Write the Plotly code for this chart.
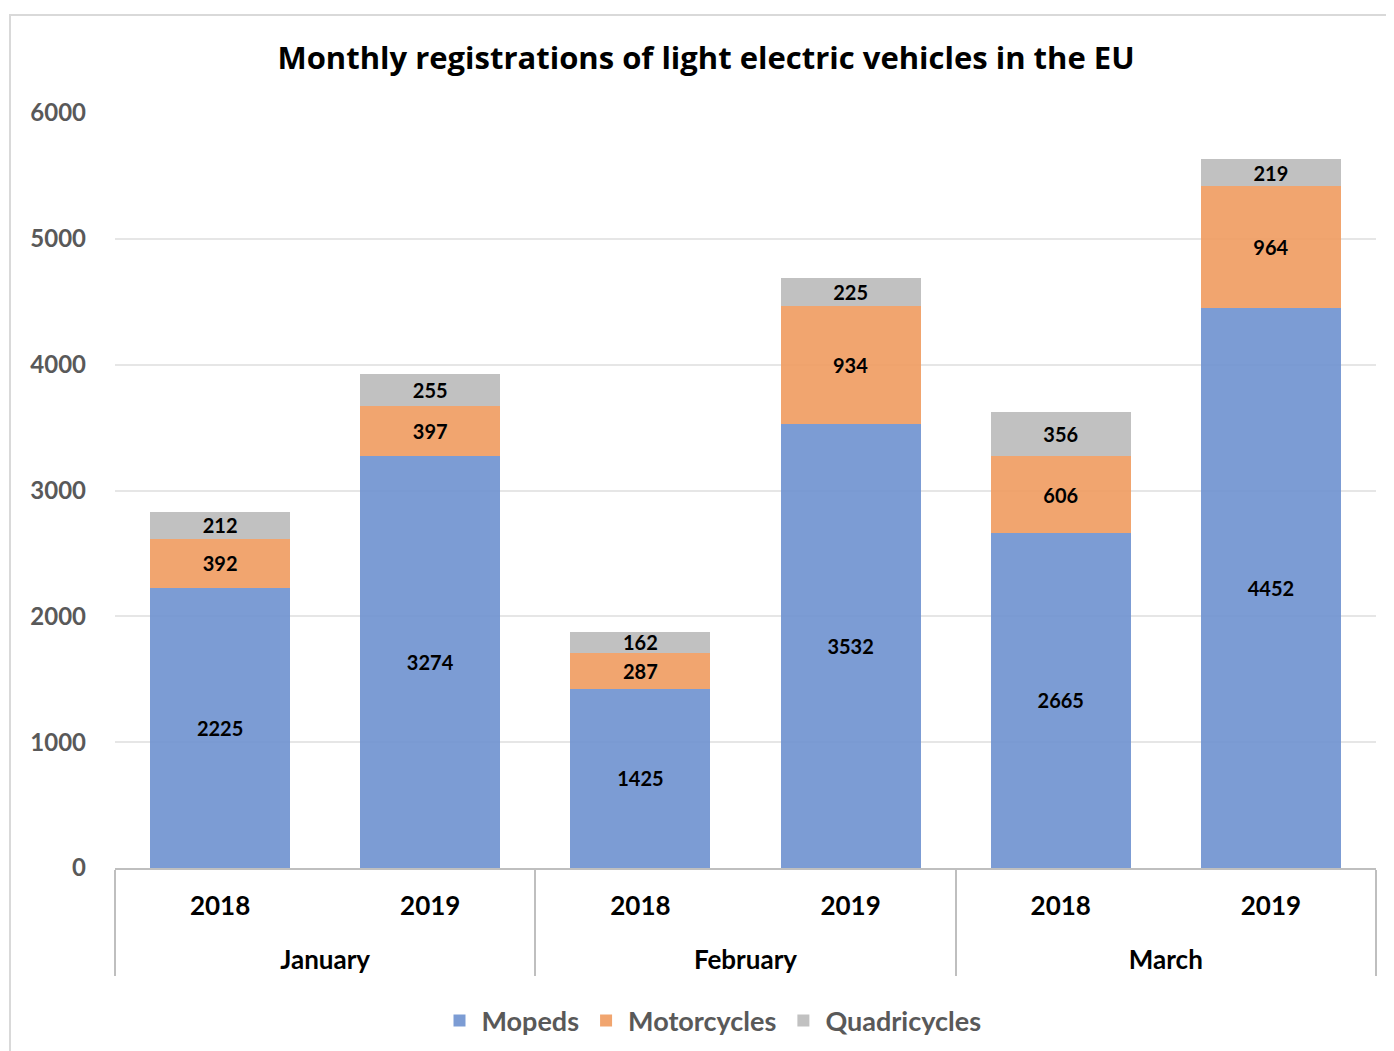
import plotly.graph_objects as go

months = ["January", "January", "February", "February", "March", "March"]
years = ["2018", "2019", "2018", "2019", "2018", "2019"]
mopeds = [2225, 3274, 1425, 3532, 2665, 4452]
motorcycles = [392, 397, 287, 934, 606, 964]
quadricycles = [212, 255, 162, 225, 356, 219]

FONT = "Lato"
year_labels = [y + "<br> " for y in years]
x = [months, year_labels]

fig = go.Figure()
for name, vals, color in [("Mopeds", mopeds, "rgba(110,145,207,0.9)"),
                          ("Motorcycles", motorcycles, "rgba(239,155,95,0.9)"),
                          ("Quadricycles", quadricycles, "rgba(186,186,186,0.9)")]:
    fig.add_trace(go.Bar(
        x=x, y=vals, name=name, marker_color=color, marker_line_width=0,
        text=[str(v) for v in vals], textposition="inside", insidetextanchor="middle",
        textangle=0, constraintext="none",
        textfont=dict(family=FONT, size=20, color="black", weight="bold"),
    ))

W, H = 1386, 1043
fig.update_layout(
    barmode="stack", bargap=1/3,
    width=W, height=H, autosize=False,
    margin=dict(l=107, r=18, t=105, b=183, autoexpand=False),
    paper_bgcolor="white", plot_bgcolor="white",
    title=dict(text="<b>Monthly registrations of light electric vehicles in the EU</b>",
               x=(706 - 8) / W, xanchor="center", y=1 - 50 / H, yanchor="middle",
               font=dict(family="Open Sans", size=31, color="black")),
    legend=dict(orientation="h", x=(712 - 115) / 1261, xanchor="center",
                y=(868 - 1021) / 755, yanchor="middle",
                font=dict(family=FONT, size=27, color="#595959", weight="bold"),
                itemwidth=34, traceorder="normal"),
)
fig.update_yaxes(range=[0, 6000], dtick=1000, showgrid=True, gridcolor="#e6e6e6",
                 gridwidth=1.5, zeroline=False, ticks="", ticklabelstandoff=28,
                 automargin=False,
                 tickfont=dict(family=FONT, size=24, color="#595959", weight="bold"))
fig.update_xaxes(showline=True, linecolor="#bfbfbf", linewidth=2, ticks="",
                 showdividers=True, dividercolor="#bfbfbf", dividerwidth=2,
                 automargin=False, ticklabelstandoff=14,
                 tickfont=dict(family=FONT, size=26, color="black", weight="bold"))

fig.add_shape(type="rect", xref="paper", yref="paper",
              x0=(10 - 115) / 1261, x1=1.2, y0=-0.5, y1=(868 - 15) / 755,
              line=dict(color="#d9d9d9", width=2), fillcolor="rgba(0,0,0,0)", layer="below")

fig.write_html("out.html")
